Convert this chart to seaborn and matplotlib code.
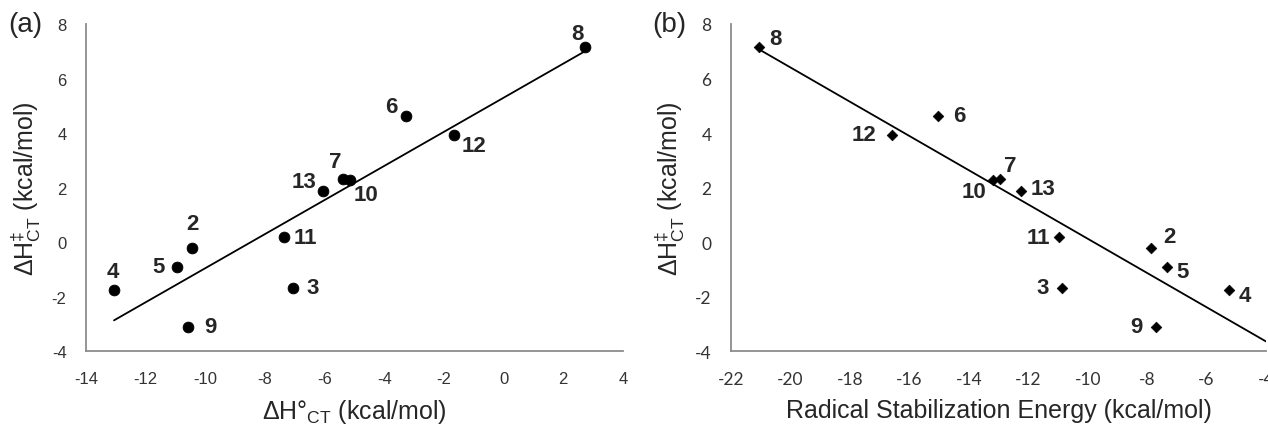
import numpy as np
import pandas as pd
import seaborn as sns
import matplotlib.pyplot as plt
from matplotlib.ticker import MultipleLocator

# compound labels and values
compounds = ['2', '3', '4', '5', '6', '7', '8', '9', '10', '11', '12', '13']
dH_ct = [-10.44, -7.05, -13.06, -10.95, -3.26, -5.37, 2.74, -10.58, -5.14, -7.35, -1.68, -6.05]
rse = [-7.86, -10.86, -5.23, -7.32, -15.03, -12.94, -21.06, -7.70, -13.18, -10.96, -16.58, -12.24]
dH_ts = [-0.22, -1.68, -1.75, -0.91, 4.63, 2.30, 7.15, -3.10, 2.26, 0.18, 3.94, 1.86]

# label offsets in points (dx, dy) for each panel
offs_a = {'2': (0, 18), '3': (14, 0), '4': (-1, 13), '5': (-13, 0), '6': (-11, 7),
          '7': (-6, 13), '8': (-6, 10), '9': (16, 0), '10': (11, -10), '11': (15, 0),
          '12': (15, -8), '13': (-14, 7)}
offs_b = {'2': (13, 8), '3': (-14, 0), '4': (11, -4), '5': (11, -3), '6': (15, 0),
          '7': (7, 10), '8': (12, 6), '9': (-14, 0), '10': (-14, -8), '11': (-15, 0),
          '12': (-20, 0), '13': (16, 2)}

df = pd.DataFrame({'cmp': compounds, 'dH_ct': dH_ct, 'rse': rse, 'dH_ts': dH_ts})

sns.set_style('white')
plt.rcParams['font.family'] = ['Liberation Sans', 'DejaVu Sans']
plt.rcParams['mathtext.fontset'] = 'custom'
plt.rcParams['mathtext.rm'] = 'Liberation Sans'
plt.rcParams['axes.unicode_minus'] = False

fig = plt.figure(figsize=(12.68, 4.31), dpi=100)
ax1 = fig.add_axes([0.0678, 0.183, 0.4235, 0.759])
ax2 = fig.add_axes([0.5765, 0.183, 0.4219, 0.759])

grey = '#8c8c8c'


def style_axes(ax, tickfont, fs):
    for s in ['top', 'right']:
        ax.spines[s].set_visible(False)
    for s in ['left', 'bottom']:
        ax.spines[s].set_color(grey)
        ax.spines[s].set_linewidth(1.3)
    ax.set_ylim(-4, 8)
    ax.yaxis.set_major_locator(MultipleLocator(2))
    ax.yaxis.set_minor_locator(MultipleLocator(1))
    ax.xaxis.set_major_locator(MultipleLocator(2))
    ax.xaxis.set_minor_locator(MultipleLocator(1))
    ax.tick_params(axis='x', which='major', direction='inout', length=9, width=1.1, color=grey, pad=10)
    ax.tick_params(axis='x', which='minor', direction='in', length=4, width=1.1, color=grey)
    ax.tick_params(axis='y', which='both', direction='in', length=4, width=1.1, color=grey, pad=14)
    for lab in ax.get_xticklabels() + ax.get_yticklabels():
        lab.set_fontfamily(tickfont)
        lab.set_fontsize(fs)
        lab.set_color('#333333')


# panel (a)
ax1.set_xlim(-14, 4)
sl, ic = np.polyfit(df['dH_ct'], df['dH_ts'], 1)
xa = np.array([df['dH_ct'].min(), df['dH_ct'].max()])
sns.lineplot(x=xa, y=sl * xa + ic, ax=ax1, color='black', linewidth=1.3)
sns.scatterplot(data=df, x='dH_ct', y='dH_ts', ax=ax1, color='black', s=60,
                marker='o', edgecolor='black', zorder=3)
for c, x, y in zip(compounds, dH_ct, dH_ts):
    ax1.annotate(c, (x, y), xytext=offs_a[c], textcoords='offset points',
                 ha='center', va='center', fontsize=16, fontweight='bold')
style_axes(ax1, 'Liberation Sans', 12)
ax1.set_xlabel(r'$\Delta$H°$_{\rm CT}$ (kcal/mol)', fontsize=18, labelpad=8)
ax1.set_ylabel(r'$\Delta$H$^{\ddag}_{\rm CT}$ (kcal/mol)', fontsize=18, labelpad=6)

# panel (b)
ax2.set_xlim(-22, -4)
sl2, ic2 = np.polyfit(df['rse'], df['dH_ts'], 1)
xb = np.array([df['rse'].min(), -4])
sns.lineplot(x=xb, y=sl2 * xb + ic2, ax=ax2, color='black', linewidth=1.3)
sns.scatterplot(data=df, x='rse', y='dH_ts', ax=ax2, color='black', s=30,
                marker='D', edgecolor='black', zorder=3)
for c, x, y in zip(compounds, rse, dH_ts):
    ax2.annotate(c, (x, y), xytext=offs_b[c], textcoords='offset points',
                 ha='center', va='center', fontsize=16, fontweight='bold')
style_axes(ax2, 'Lato', 12.5)
ax2.set_xlabel('Radical Stabilization Energy (kcal/mol)', fontsize=18, labelpad=8)
ax2.set_ylabel(r'$\Delta$H$^{\ddag}_{\rm CT}$ (kcal/mol)', fontsize=18, labelpad=6)

fig.text(0.0065, 0.925, '(a)', fontsize=20)
fig.text(0.514, 0.925, '(b)', fontsize=20)

fig.savefig('out.png', dpi=100)
